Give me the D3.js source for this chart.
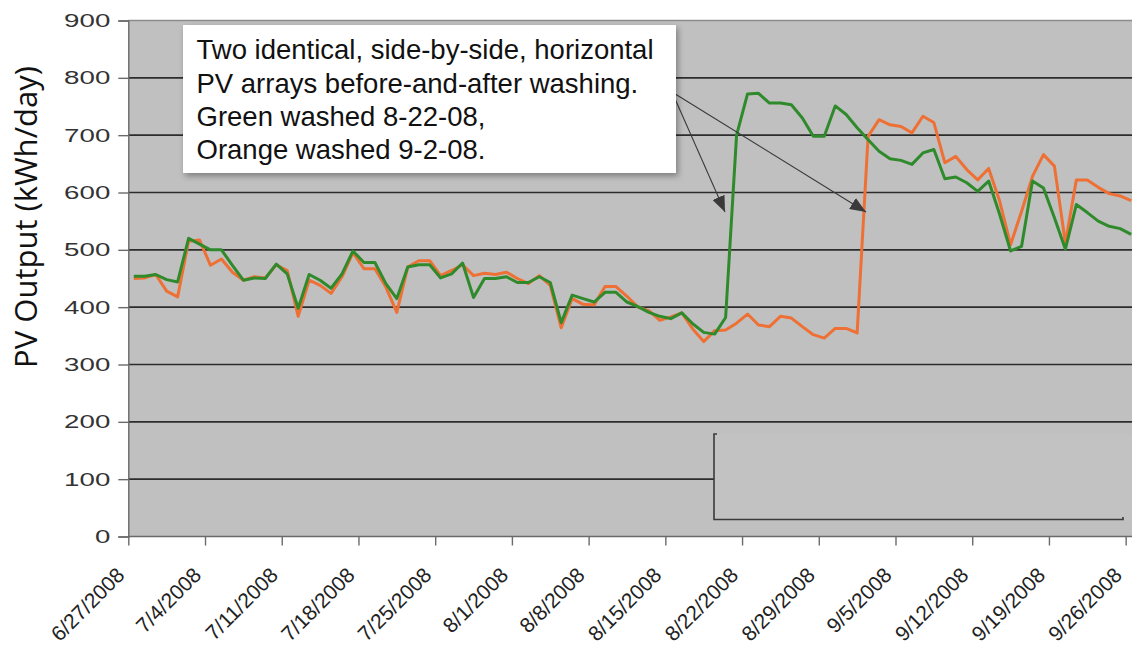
<!DOCTYPE html>
<html>
<head>
<meta charset="utf-8">
<script src="https://cdn.jsdelivr.net/npm/d3@7"></script>
<style>
  html, body { margin: 0; padding: 0; background: #ffffff; }
  svg { display: block; }
</style>
</head>
<body>
<svg id="chart" width="1132" height="656"></svg>
<script>
// ---------------- data ----------------
const firstDay = "2008-06-27";
const lastDay = "2008-09-26";

const greenValues = [
  454, 454, 457, 448, 444, 520, 510, 500, 500, 473,
  447, 451, 450, 475, 458, 398, 457, 447, 433, 458,
  498, 478, 478, 441, 415, 470, 474, 474, 451, 458,
  477, 417, 450, 450, 453, 443, 443, 453, 443, 373,
  421, 415, 409, 426, 426, 409, 401, 391, 384, 380,
  390, 371, 356, 353, 382, 700, 772, 773, 756, 756,
  753, 730, 698, 698, 751, 736, 713, 692, 672, 659,
  656, 649, 669, 675, 624, 627, 617, 602, 620, 562,
  498, 506, 620, 608, 556, 501, 579, 565, 550, 541,
  537, 527
];

const orangeValues = [
  450, 451, 457, 428, 418, 515, 517, 473, 484, 461,
  447, 453, 451, 474, 464, 384, 447, 438, 424, 453,
  495, 467, 467, 435, 391, 470, 481, 481, 455, 464,
  474, 455, 459, 457, 461, 450, 441, 455, 438, 364,
  415, 405, 404, 436, 436, 419, 400, 394, 377, 383,
  390, 362, 340, 359, 360, 372, 388, 369, 366, 384,
  381, 366, 352, 346, 363, 363, 355, 698, 727, 718,
  715, 704, 733, 722, 652, 663, 640, 622, 642, 585,
  509, 567, 628, 666, 646, 512, 622, 622, 609, 598,
  594, 586
];

const xTickLabels = [
  "6/27/2008", "7/4/2008", "7/11/2008", "7/18/2008", "7/25/2008",
  "8/1/2008", "8/8/2008", "8/15/2008", "8/22/2008", "8/29/2008",
  "9/5/2008", "9/12/2008", "9/19/2008", "9/26/2008"
];
const yTicks = [0, 100, 200, 300, 400, 500, 600, 700, 800, 900];

const yTitle = "PV Output (kWh/day)";
const noteLines = [
  "Two identical, side-by-side, horizontal",
  "PV arrays before-and-after washing.",
  "Green washed 8-22-08,",
  "Orange washed 9-2-08."
];
const greenColor = "#2f8a2c";
const orangeColor = "#ee7034";

// ---------------- layout ----------------
const W = 1132, H = 656;
const plotLeft = 128.3, dayW = 10.96;
const plotTop = 20.5, plotBottom = 536.5, plotRight = 1132;

const parseISO = d3.utcParse("%Y-%m-%d");
const parseMDY = d3.utcParse("%m/%d/%Y");
const days = d3.utcDay.range(parseISO(firstDay), d3.utcDay.offset(parseISO(lastDay), 1));
const greenData = days.map((d, i) => ({ date: d, v: greenValues[i] }));
const orangeData = days.map((d, i) => ({ date: d, v: orangeValues[i] }));

const x = d3.scaleUtc()
  .domain([parseISO(firstDay), d3.utcDay.offset(parseISO(lastDay), 1)])
  .range([plotLeft, plotLeft + days.length * dayW]);
const y = d3.scaleLinear().domain([0, 900]).range([plotBottom, plotTop]);
const mid = d => d3.utcHour.offset(d, 12);

const svg = d3.select("#chart");
const defs = svg.append("defs");

defs.append("filter").attr("id", "shadow")
  .attr("x", "-10%").attr("y", "-10%").attr("width", "125%").attr("height", "130%")
  .append("feDropShadow")
  .attr("dx", 2).attr("dy", 3).attr("stdDeviation", 3)
  .attr("flood-color", "#000").attr("flood-opacity", 0.35);

defs.append("marker").attr("id", "arrow")
  .attr("markerUnits", "userSpaceOnUse")
  .attr("markerWidth", 17).attr("markerHeight", 13)
  .attr("refX", 16).attr("refY", 6.5).attr("orient", "auto")
  .append("path").attr("d", "M0,0 L16,6.5 L0,13 Z").attr("fill", "#3a3a3a");

svg.append("rect").attr("width", W).attr("height", H).attr("fill", "#ffffff");

// plot background
svg.append("rect")
  .attr("x", plotLeft).attr("y", plotTop)
  .attr("width", plotRight - plotLeft).attr("height", plotBottom - plotTop)
  .attr("fill", "#c0c0c0");

// top border
svg.append("line")
  .attr("x1", plotLeft).attr("x2", plotRight)
  .attr("y1", y(900)).attr("y2", y(900))
  .attr("stroke", "#8c8c8c").attr("stroke-width", 1.5);

// gridlines
svg.append("g").selectAll("line")
  .data(yTicks.filter(t => t > 0 && t < 900))
  .join("line")
  .attr("x1", plotLeft).attr("x2", plotRight)
  .attr("y1", d => y(d)).attr("y2", d => y(d))
  .attr("stroke", "#2c2c2c").attr("stroke-width", 1.6);

// blanked legend area with bracket
svg.append("rect")
  .attr("x", 714).attr("y", 434)
  .attr("width", plotRight - 714).attr("height", 86)
  .attr("fill", "#c2c2c2");
svg.append("path")
  .attr("d", "M717,434 H714 V519.5 H1123 V517")
  .attr("fill", "none").attr("stroke", "#3a3a3a").attr("stroke-width", 1.6);

// y axis
const yAxis = svg.append("g")
  .attr("transform", `translate(${plotLeft},0)`)
  .call(d3.axisLeft(y).tickValues(yTicks).tickSize(10).tickPadding(8).tickFormat(d3.format("d")));
yAxis.select(".domain").attr("stroke", "#6a6a6a").attr("stroke-width", 1.4);
yAxis.selectAll(".tick line").attr("stroke", "#6a6a6a").attr("stroke-width", 1.4);
yAxis.selectAll(".tick text")
  .attr("font-family", "Liberation Sans, Arial, sans-serif")
  .attr("font-size", 18.5)
  .attr("fill", "#333")
  .attr("textLength", d => String(d).length * 15.4)
  .attr("lengthAdjust", "spacingAndGlyphs");

// x axis
const xTickDates = xTickLabels.map(s => parseMDY(s));
const xAxis = svg.append("g")
  .attr("transform", `translate(0,${plotBottom})`)
  .call(d3.axisBottom(x).tickValues(xTickDates).tickSize(9).tickFormat((d, i) => xTickLabels[i]));
xAxis.select(".domain").attr("stroke", "#6a6a6a").attr("stroke-width", 1.4)
  .attr("d", `M${plotLeft},0H${plotRight}`);
xAxis.selectAll(".tick line").attr("stroke", "#6a6a6a").attr("stroke-width", 1.4);
xAxis.selectAll(".tick text")
  .attr("font-family", "Liberation Sans, Arial, sans-serif")
  .attr("font-size", 21)
  .attr("fill", "#222")
  .attr("text-anchor", "end")
  .attr("dy", null)
  .attr("y", 0)
  .attr("transform", "translate(-3,40) rotate(-45)");

// series lines
const line = d3.line().x(d => x(mid(d.date))).y(d => y(d.v));
svg.append("path").datum(orangeData)
  .attr("d", line).attr("fill", "none")
  .attr("stroke", orangeColor).attr("stroke-width", 3).attr("stroke-linejoin", "round");
svg.append("path").datum(greenData)
  .attr("d", line).attr("fill", "none")
  .attr("stroke", greenColor).attr("stroke-width", 3).attr("stroke-linejoin", "round");

// y title
svg.append("text")
  .attr("transform", "translate(37,217) rotate(-90)")
  .attr("text-anchor", "middle")
  .attr("font-family", "Open Sans, Noto Sans, sans-serif")
  .attr("font-size", 31)
  .attr("fill", "#111")
  .text(yTitle);

// annotation arrows
const arrows = [
  { x1: 672, y1: 92, x2: 725, y2: 212 },
  { x1: 672, y1: 92, x2: 866, y2: 212 }
];
svg.append("g").selectAll("line").data(arrows).join("line")
  .attr("x1", d => d.x1).attr("y1", d => d.y1)
  .attr("x2", d => d.x2).attr("y2", d => d.y2)
  .attr("stroke", "#3a3a3a").attr("stroke-width", 1.1)
  .attr("marker-end", "url(#arrow)");

// annotation box
svg.append("rect")
  .attr("x", 183).attr("y", 25).attr("width", 493).attr("height", 148)
  .attr("fill", "#ffffff").attr("filter", "url(#shadow)");
svg.append("g").selectAll("text").data(noteLines).join("text")
  .attr("x", 196.5)
  .attr("y", (d, i) => 59.3 + i * 33.35)
  .attr("font-family", "Liberation Sans, Arial, sans-serif")
  .attr("font-size", 27.5)
  .attr("fill", "#111")
  .text(d => d);
</script>
</body>
</html>
